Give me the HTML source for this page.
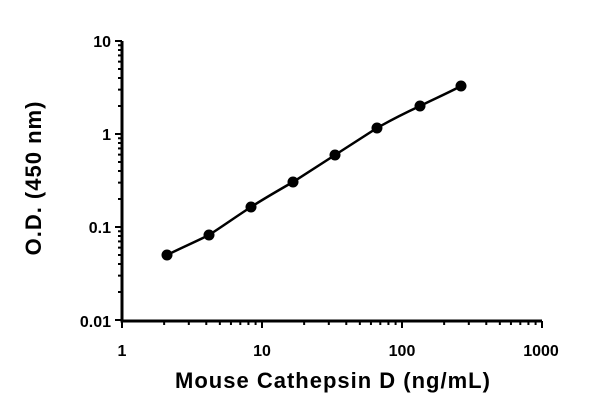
<!DOCTYPE html>
<html><head><meta charset="utf-8"><style>
html,body{margin:0;padding:0;background:#fff;}
svg{display:block;}
text{font-family:"Liberation Sans",sans-serif;font-weight:bold;fill:#000;}
</style></head><body>
<svg id="s" width="600" height="406" viewBox="0 0 600 406" xmlns="http://www.w3.org/2000/svg">
<g id="ax" stroke="#000" stroke-width="3" fill="none">
<line x1="122" y1="41" x2="122" y2="322"/>
<line x1="120.5" y1="321" x2="542" y2="321"/>
</g>
<g id="tk" stroke="#000" stroke-width="2"></g>
<g font-size="16" text-anchor="end">
<text x="111" y="47">10</text>
<text x="111" y="140">1</text>
<text x="111" y="233">0.1</text>
<text x="111" y="327">0.01</text>
</g>
<g font-size="16" text-anchor="middle">
<text x="122" y="356">1</text>
<text x="262" y="356">10</text>
<text x="402" y="356">100</text>
<text x="541" y="356">1000</text>
</g>
<text x="333" y="388" font-size="22" letter-spacing="1" text-anchor="middle">Mouse Cathepsin D (ng/mL)</text>
<text transform="translate(41,178) rotate(-90)" font-size="22" letter-spacing="1" text-anchor="middle">O.D. (450 nm)</text>
<path d="M167,255 C181,248 195,242 209,235 C223,226 237,216 251,207 C265,198 279,190 293,182 C307,173 321,164 335,155 C349,146 363,137 377,128 C391,120 405,113 420,106 C434,99 448,93 461,86" stroke="#000" stroke-width="2.5" fill="none"/>
<g fill="#000">
<circle cx="167" cy="255" r="5.5"/><circle cx="209" cy="235" r="5.5"/>
<circle cx="251" cy="207" r="5.5"/><circle cx="293" cy="182" r="5.5"/>
<circle cx="335" cy="155" r="5.5"/><circle cx="377" cy="128" r="5.5"/>
<circle cx="420" cy="106" r="5.5"/><circle cx="461" cy="86" r="5.5"/>
</g>
</svg>
<script>
var g=document.getElementById('tk'),h='';
for(var d=0;d<3;d++){for(var m=1;m<=10;m++){
 var y=320-93*(d+Math.log10(m)),L=(m==1||m==10)?7:4;
 h+='<line x1="'+(122-L)+'" y1="'+y+'" x2="122" y2="'+y+'"/>';
 var x=122+140*(d+Math.log10(m));
 h+='<line x1="'+x+'" y1="321" x2="'+x+'" y2="'+(321+L)+'"/>';
}}
g.innerHTML=h;
</script>
</body></html>
